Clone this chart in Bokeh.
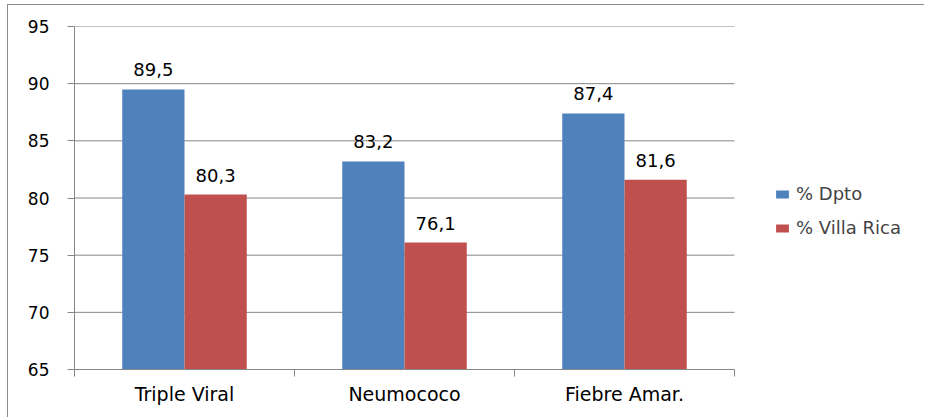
from bokeh.plotting import figure
from bokeh.models import Range1d, FixedTicker, ColumnDataSource, Legend, LegendItem
from bokeh.embed import file_html
from bokeh.resources import INLINE
from bokeh.core.properties import value

categories = ["Triple Viral", "Neumococo", "Fiebre Amar."]
dpto = [89.5, 83.2, 87.4]
villa_rica = [80.3, 76.1, 81.6]
series_names = ["% Dpto", "% Villa Rica"]
colors = ["#4F81BD", "#C0504D"]
y_ticks = [65, 70, 75, 80, 85, 90, 95]

FONT = "DejaVu Sans"
BAR_W = 0.283
GRID = "#868686"

n = len(categories)
centers = [i + 0.5 for i in range(n)]
bounds = list(range(n + 1))

PLOT_PX = 660      # width of the category area in pixels
FRAME_W = 850      # frame also holds the legend
p = figure(frame_width=FRAME_W, frame_height=343, output_backend="svg", toolbar_location=None,
           x_range=Range1d(0, n * FRAME_W / PLOT_PX), y_range=Range1d(65, 95),
           min_border_left=66, min_border_right=0, min_border_top=21, min_border_bottom=49)
p.outline_line_color = None
p.background_fill_color = "white"
p.border_fill_color = "white"
p.styles = {"margin-left": "7px", "margin-top": "4px",
            "border-left": "1px solid #8c8c8c", "border-top": "1px solid #8c8c8c",
            "border-bottom": "1px solid #8c8c8c", "box-sizing": "border-box"}

# horizontal grid lines limited to the category area
p.segment(x0=[0] * len(y_ticks), x1=[n] * len(y_ticks), y0=y_ticks, y1=y_ticks,
          line_color=GRID, line_width=1)

renderers = []
for vals, off, col in [(dpto, -BAR_W / 2, colors[0]), (villa_rica, BAR_W / 2, colors[1])]:
    xs = [c + off for c in centers]
    src = ColumnDataSource(dict(x=xs, top=vals, lab=[f"{v:.1f}".replace(".", ",") for v in vals]))
    r = p.vbar(x="x", top="top", bottom=65, width=BAR_W, source=src, fill_color=col, line_color=None)
    renderers.append(r)
    p.text(x="x", y="top", text="lab", source=src, text_align="center", text_baseline="bottom",
           y_offset=-13, text_font=value(FONT), text_font_size="18px", text_color="#000000")

# x axis
p.xaxis.bounds = (0, n)
p.xaxis.ticker = FixedTicker(ticks=centers, minor_ticks=bounds)
p.xaxis.major_label_overrides = {c: name for c, name in zip(centers, categories)}
p.xaxis.major_tick_line_color = None
p.xaxis.major_tick_out = 0
p.xaxis.major_tick_in = 0
p.xaxis.minor_tick_in = 0
p.xaxis.minor_tick_out = 7
p.xaxis.minor_tick_line_color = GRID
p.xaxis.axis_line_color = GRID
p.xaxis.major_label_standoff = 6
p.xaxis.major_label_text_font = FONT
p.xaxis.major_label_text_font_size = "19px"
p.xaxis.major_label_text_color = "#000000"

# y axis
p.yaxis.ticker = FixedTicker(ticks=y_ticks)
p.yaxis.major_tick_out = 7
p.yaxis.major_tick_in = 0
p.yaxis.minor_tick_line_color = None
p.yaxis.major_tick_line_color = GRID
p.yaxis.axis_line_color = GRID
p.yaxis.major_label_standoff = 18
p.yaxis.major_label_text_font = FONT
p.yaxis.major_label_text_font_size = "17px"
p.yaxis.major_label_text_color = "#000000"

p.xgrid.grid_line_color = None
p.ygrid.grid_line_color = None

legend = Legend(items=[LegendItem(label=s, renderers=[r]) for s, r in zip(series_names, renderers)],
                location=(700, 131), padding=0, margin=0, spacing=13,
                glyph_width=16, glyph_height=10, label_standoff=6,
                label_text_font=FONT, label_text_font_size="18px",
                border_line_color=None, background_fill_alpha=0)
p.add_layout(legend)

open("out.html", "w").write(file_html(p, INLINE))
